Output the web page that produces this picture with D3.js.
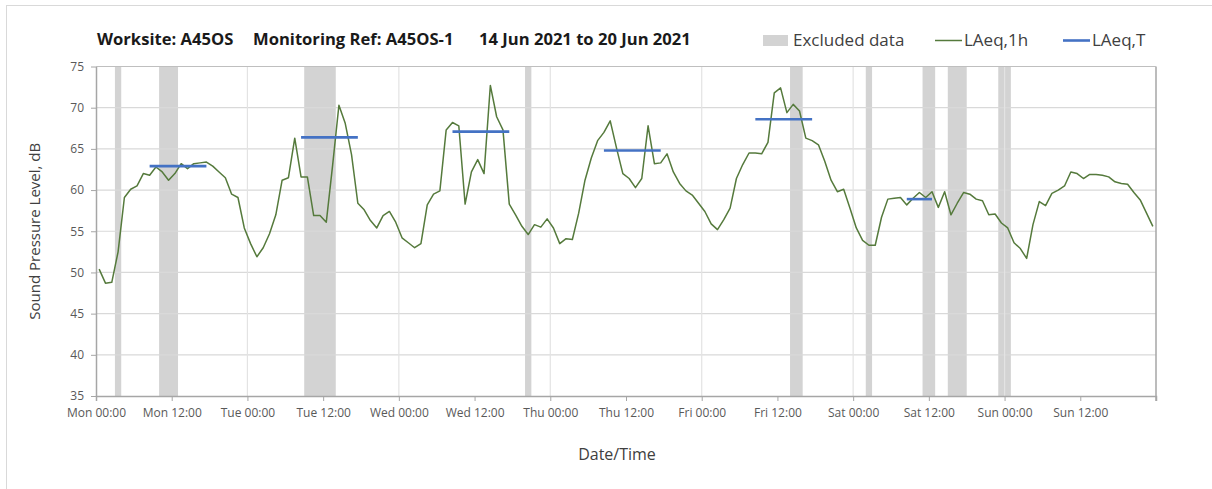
<!DOCTYPE html>
<html lang="en">
<head>
    <meta charset="UTF-8">
    <title>Worksite A45OS noise monitoring</title>
    <script src="https://d3js.org/d3.v7.min.js"></script>
    <style>
        body {
            margin: 0;
            background-color: #ffffff;
            font-family: 'Open Sans', sans-serif;
        }
        .grid line { stroke: #d9d9d9; stroke-width: 1.2; }
        .tick-label { font-size: 12px; fill: #595959; }
    </style>
</head>
<body>
    <svg width="1212" height="489"></svg>

    <script>
        // hourly LAeq,1h values, Mon 00:00 -> Sun 23:00 (168 hours)
        const laeq1h = [
            50.4, 48.7, 48.8, 52.5, 59.1, 60.1, 60.5, 62.0, 61.8, 62.8, 62.2, 61.2,
            62.0, 63.2, 62.6, 63.2, 63.3, 63.4, 62.9, 62.2, 61.5, 59.5, 59.1, 55.4,
            53.5, 51.9, 53.0, 54.7, 57.0, 61.2, 61.5, 66.3, 61.6, 61.6, 56.9, 56.9,
            56.1, 63.0, 70.3, 68.1, 64.3, 58.4, 57.6, 56.3, 55.4, 56.9, 57.4, 56.1,
            54.2, 53.6, 53.0, 53.5, 58.2, 59.5, 59.9, 67.3, 68.2, 67.8, 58.3, 62.2,
            63.7, 62.0, 72.7, 68.9, 67.3, 58.3, 57.0, 55.6, 54.6, 55.8, 55.5, 56.5,
            55.4, 53.5, 54.1, 54.0, 57.2, 61.2, 63.9, 66.0, 67.0, 68.4, 65.1, 62.0,
            61.4, 60.3, 61.4, 67.8, 63.2, 63.3, 64.4, 62.2, 60.8, 59.9, 59.4, 58.4,
            57.4, 55.9, 55.2, 56.4, 57.8, 61.4, 63.1, 64.5, 64.5, 64.4, 65.8, 71.8,
            72.4, 69.4, 70.4, 69.6, 66.3, 66.0, 65.5, 63.5, 61.2, 59.8, 60.1, 57.8,
            55.4, 53.9, 53.3, 53.3, 56.7, 58.9, 59.0, 59.1, 58.2, 59.0, 59.7, 59.1,
            59.8, 57.9, 59.8, 57.0, 58.4, 59.7, 59.5, 58.9, 58.7, 57.0, 57.1, 56.0,
            55.4, 53.6, 52.9, 51.7, 55.8, 58.6, 58.1, 59.6, 60.0, 60.5, 62.2, 62.0,
            61.4, 61.9, 61.9, 61.8, 61.6, 61.0, 60.8, 60.7, 59.7, 58.8, 57.2, 55.6
        ];

        // LAeq,T periods: first hour, last hour, level
        const periodStart = [8, 32, 56, 80, 104, 128];
        const periodEnd = [17, 41, 65, 89, 113, 132];
        const periodLevel = [62.9, 66.4, 67.1, 64.8, 68.6, 58.9];

        // excluded data: first hour, number of hours
        const excludedStart = [3, 10, 33, 68, 110, 122, 131, 135, 143];
        const excludedHours = [1, 3, 5, 1, 2, 1, 2, 3, 2];

        const tickLabels = [
            "Mon 00:00", "Mon 12:00", "Tue 00:00", "Tue 12:00", "Wed 00:00", "Wed 12:00",
            "Thu 00:00", "Thu 12:00", "Fri 00:00", "Fri 12:00", "Sat 00:00", "Sat 12:00",
            "Sun 00:00", "Sun 12:00"
        ];
        const yTicks = [35, 40, 45, 50, 55, 60, 65, 70, 75];

        const svg = d3.select("svg");
        const margin = { top: 66.5, right: 56, bottom: 93, left: 96 };
        const width = 1212 - margin.left - margin.right;
        const height = 489 - margin.top - margin.bottom;

        // outer chart border
        svg.append("rect")
           .attr("x", 6.5).attr("y", 5.5)
           .attr("width", 1300).attr("height", 600)
           .attr("fill", "none")
           .attr("stroke", "#d9d9d9");

        const x = d3.scaleLinear().domain([0, 168]).range([0, width]);
        const y = d3.scaleLinear().domain([35, 75]).range([height, 0]);

        const chart = svg.append("g")
                         .attr("transform", `translate(${margin.left},${margin.top})`);

        // excluded bands
        chart.selectAll(".band")
             .data(excludedStart.map((s, i) => ({ s: s, n: excludedHours[i] })))
             .enter()
             .append("rect")
             .attr("class", "band")
             .attr("x", d => x(d.s))
             .attr("y", 0)
             .attr("width", d => x(d.s + d.n) - x(d.s))
             .attr("height", height)
             .attr("fill", "#d3d3d3");

        // gridlines
        chart.append("g")
             .attr("class", "grid")
             .selectAll("line")
             .data(yTicks.slice(1))
             .enter()
             .append("line")
             .attr("x1", 0).attr("x2", width)
             .attr("y1", d => y(d)).attr("y2", d => y(d));

        chart.append("g")
             .attr("class", "grid")
             .selectAll("line")
             .data(d3.range(24, 168, 24))
             .enter()
             .append("line")
             .attr("x1", d => x(d)).attr("x2", d => x(d))
             .attr("y1", 0).attr("y2", height)
             .style("stroke", "#e3e3e3");

        // right / top frame
        chart.append("line")
             .attr("x1", width).attr("x2", width)
             .attr("y1", 0).attr("y2", height + 5)
             .attr("stroke", "#a6a6a6").attr("stroke-width", 1.5);
        chart.append("line")
             .attr("x1", 0).attr("x2", width)
             .attr("y1", 0).attr("y2", 0)
             .attr("stroke", "#bfbfbf").attr("stroke-width", 1.2);

        // axes
        const xAxis = chart.append("g")
             .attr("transform", `translate(0,${height})`)
             .call(d3.axisBottom(x)
                     .tickValues(d3.range(0, 168, 12))
                     .tickSize(5)
                     .tickFormat((d, i) => tickLabels[i]));
        xAxis.select(".domain").attr("stroke", "#a6a6a6").attr("stroke-width", 1.5);
        xAxis.selectAll(".tick line").attr("stroke", "#a6a6a6");
        xAxis.selectAll("text")
             .attr("class", "tick-label")
             .attr("dy", "1.1em")
             .style("font-family", "'Open Sans', sans-serif");

        const yAxis = chart.append("g")
             .call(d3.axisLeft(y).tickValues(yTicks).tickSize(5).tickSizeOuter(0));
        yAxis.select(".domain").attr("stroke", "#a6a6a6").attr("stroke-width", 1.5);
        yAxis.selectAll(".tick line").attr("stroke", "#a6a6a6");
        yAxis.selectAll("text")
             .attr("class", "tick-label")
             .attr("x", -12)
             .style("font-family", "'Open Sans', sans-serif");

        // LAeq,1h line
        const line = d3.line()
                       .x((d, i) => x(i + 0.5))
                       .y(d => y(d));
        chart.append("path")
             .datum(laeq1h)
             .attr("d", line)
             .attr("fill", "none")
             .attr("stroke", "#557a3c")
             .attr("stroke-width", 1.5)
             .attr("stroke-linejoin", "round");

        // LAeq,T lines
        chart.selectAll(".period")
             .data(periodLevel.map((v, i) => ({ a: periodStart[i], b: periodEnd[i], v: v })))
             .enter()
             .append("line")
             .attr("class", "period")
             .attr("x1", d => x(d.a + 0.5))
             .attr("x2", d => x(d.b + 0.5))
             .attr("y1", d => y(d.v))
             .attr("y2", d => y(d.v))
             .attr("stroke", "#4472c4")
             .attr("stroke-width", 2.6);

        // axis titles
        svg.append("text")
           .attr("transform", `translate(40,${margin.top + height / 2}) rotate(-90)`)
           .attr("text-anchor", "middle")
           .style("font-size", "15px")
           .style("fill", "#404040")
           .text("Sound Pressure Level, dB");

        svg.append("text")
           .attr("x", 617)
           .attr("y", 460)
           .attr("text-anchor", "middle")
           .style("font-size", "16px")
           .style("fill", "#404040")
           .text("Date/Time");

        // title pieces
        const titleParts = [
            { x: 97, t: "Worksite: A45OS" },
            { x: 253, t: "Monitoring Ref: A45OS-1" },
            { x: 479, t: "14 Jun 2021 to 20 Jun 2021" }
        ];
        svg.selectAll(".title")
           .data(titleParts)
           .enter()
           .append("text")
           .attr("class", "title")
           .attr("x", d => d.x)
           .attr("y", 45)
           .style("font-size", "16.6px")
           .style("font-weight", "bold")
           .style("fill", "#1a1a1a")
           .text(d => d.t);

        // legend
        const legend = svg.append("g").style("font-size", "17px").style("fill", "#404040");
        legend.append("rect")
              .attr("x", 763).attr("y", 35)
              .attr("width", 25).attr("height", 11)
              .attr("fill", "#d3d3d3");
        legend.append("text").attr("x", 793).attr("y", 46).text("Excluded data");
        legend.append("line")
              .attr("x1", 935).attr("x2", 962).attr("y1", 40.5).attr("y2", 40.5)
              .attr("stroke", "#557a3c").attr("stroke-width", 1.5);
        legend.append("text").attr("x", 964).attr("y", 46).text("LAeq,1h");
        legend.append("line")
              .attr("x1", 1063).attr("x2", 1090).attr("y1", 40.5).attr("y2", 40.5)
              .attr("stroke", "#4472c4").attr("stroke-width", 2.6);
        legend.append("text").attr("x", 1092).attr("y", 46).text("LAeq,T");
    </script>
</body>
</html>
